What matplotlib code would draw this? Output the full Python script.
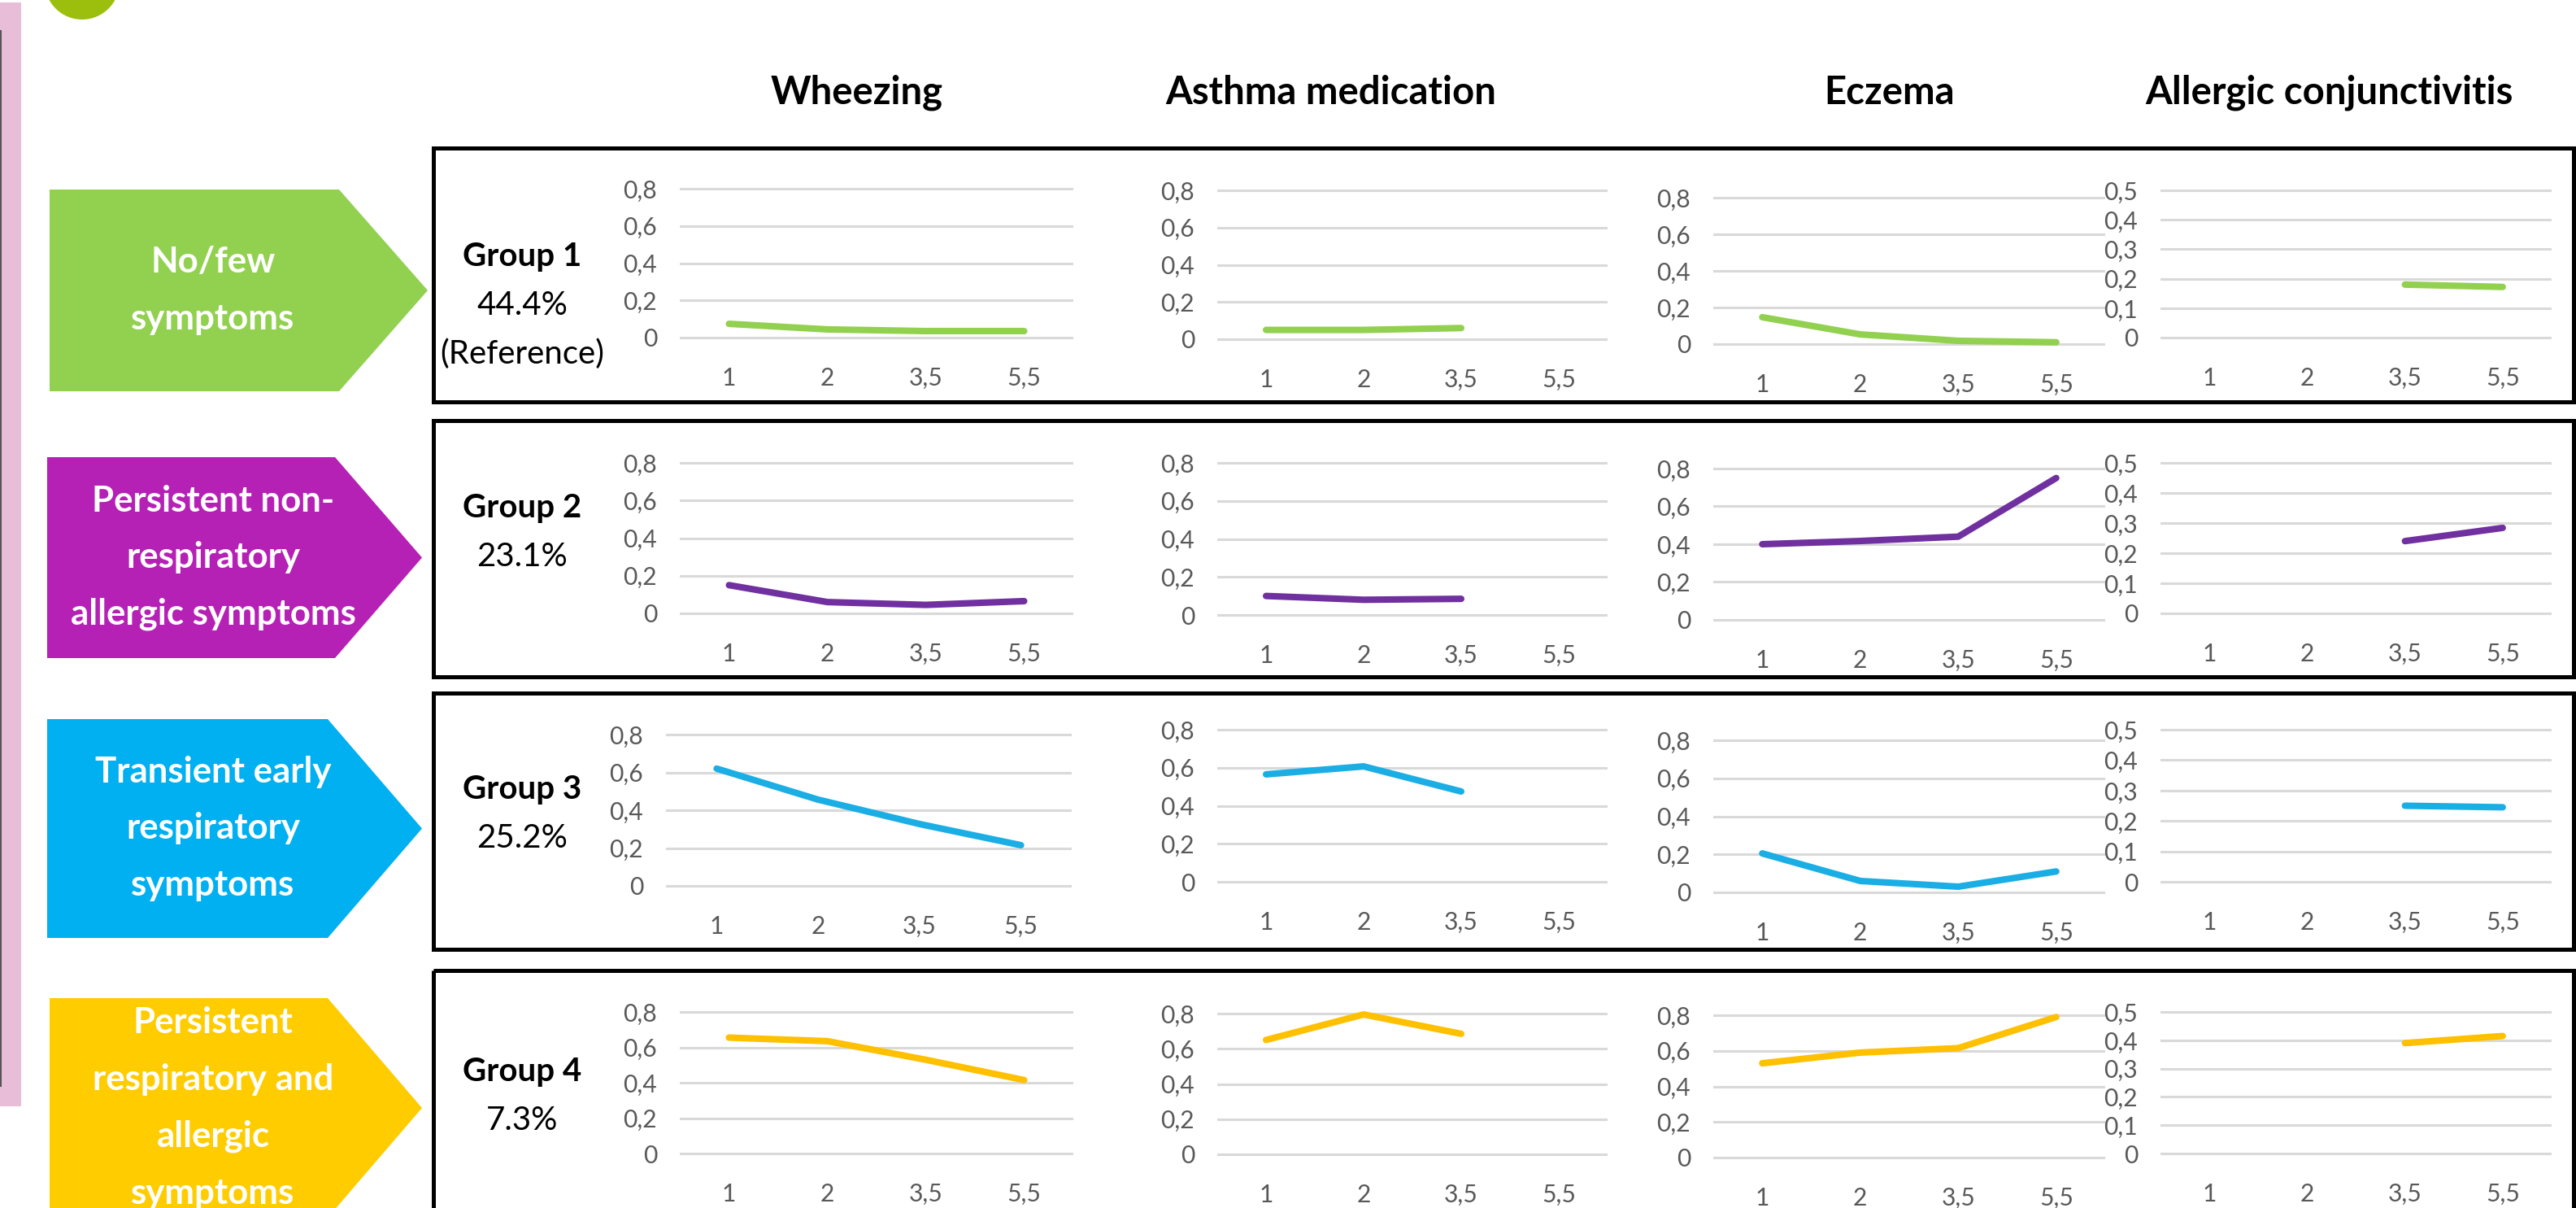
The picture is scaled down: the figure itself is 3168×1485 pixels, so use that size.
import numpy as np
import matplotlib.pyplot as plt
from matplotlib.patches import Polygon, Rectangle, Circle

plt.rcParams['font.family'] = ['Lato', 'DejaVu Sans']

W, H = 3168, 1485
nan = np.nan

# -----------------------------
# data
# -----------------------------
outcomes = ['Wheezing', 'Asthma medication', 'Eczema', 'Allergic conjunctivitis']
ages = ['1', '2', '3,5', '5,5']
group_names = ['Group 1', 'Group 2', 'Group 3', 'Group 4']
group_shares = ['44.4%', '23.1%', '25.2%', '7.3%']
group_labels = ['No/few\nsymptoms',
                'Persistent non-\nrespiratory\nallergic symptoms',
                'Transient early\nrespiratory\nsymptoms',
                'Persistent\nrespiratory and\nallergic\nsymptoms']

wheezing = [[0.074, 0.044, 0.035, 0.035],
            [0.15, 0.06, 0.045, 0.065],
            [0.62, 0.456, 0.327, 0.215],
            [0.655, 0.635, 0.53, 0.415]]
asthma_med = [[0.05, 0.05, 0.06, nan],
              [0.10, 0.08, 0.085, nan],
              [0.565, 0.607, 0.475, nan],
              [0.65, 0.795, 0.685, nan]]
eczema = [[0.147, 0.053, 0.018, 0.01],
          [0.40, 0.417, 0.44, 0.75],
          [0.205, 0.06, 0.03, 0.11],
          [0.53, 0.59, 0.615, 0.79]]
conjunctivitis = [[nan, nan, 0.18, 0.172],
                  [nan, nan, 0.24, 0.284],
                  [nan, nan, 0.25, 0.245],
                  [nan, nan, 0.39, 0.415]]
series = [wheezing, asthma_med, eczema, conjunctivitis]
y_max = [0.8, 0.8, 0.8, 0.5]
y_step = [0.2, 0.2, 0.2, 0.1]

arrow_colors = ['#92D050', '#B521B5', '#00B0F0', '#FFCC00']
line_colors = ['#92D050', '#7030A0', '#1AAEE5', '#FFC000']

# -----------------------------
# layout (pixels of the slide)
# -----------------------------
header_x = [1054, 1637, 2324, 2864]
col_x = [(836, 1320), (1497, 1977), (2107, 2589), (2657, 3138)]
row_y = [[(232, 415), (234, 417), (243, 423), (234, 415)],
         [(569, 754), (569, 756), (576, 762), (569, 754)],
         [(903, 1089), (897, 1084), (910, 1097), (897, 1084)],
         [(1244, 1418), (1246, 1419), (1248, 1423), (1244, 1418)]]
boxes = [(182, 494), (517, 832), (852, 1167), (1193, 1510)]
# left, shoulder, tip, top, bottom
arrows = [(61, 417, 526, 233, 481), (58, 412, 519, 562, 809),
          (58, 403, 519, 884, 1153), (61, 403, 519, 1227, 1497)]
name_base = [327, 636, 982, 1329]

fig = plt.figure(figsize=(W / 100, H / 100), dpi=100)
bg = fig.add_axes([0, 0, 1, 1])
bg.set_xlim(0, W)
bg.set_ylim(H, 0)
bg.axis('off')

# side decorations
bg.add_patch(Rectangle((0, 3), 26, 1357, color='#E8BDD8', lw=0))
bg.plot([1, 1], [38, 1335], color='#555555', lw=1.5)
bg.add_patch(Circle((101, -22), 46, color='#9BBF0C', lw=0))

for c, name in enumerate(outcomes):
    bg.text(header_x[c], 128, name, ha='center', va='baseline',
            fontsize=34, fontweight='bold', color='black')

for r in range(4):
    left, shoulder, tip, top, bottom = arrows[r]
    mid = (top + bottom) / 2
    bg.add_patch(Polygon([(left, top), (shoulder, top), (tip, mid),
                          (shoulder, bottom), (left, bottom)],
                         closed=True, color=arrow_colors[r], lw=0))
    bg.text(262, mid, group_labels[r], ha='center', va='center', color='white',
            fontsize=31.5, fontweight='bold', linespacing=1.9)

    btop, bbot = boxes[r]
    bg.add_patch(Rectangle((533, btop), 3165 - 533, bbot - btop, fill=False,
                           ec='black', lw=3.6))

    bg.text(642, name_base[r], group_names[r], ha='center', va='baseline',
            fontsize=29, fontweight='bold')
    bg.text(642, name_base[r] + 60, group_shares[r], ha='center', va='baseline',
            fontsize=29)
    if r == 0:
        bg.text(642, name_base[r] + 120, '(Reference)', ha='center',
                va='baseline', fontsize=29)

# -----------------------------
# the 16 small line charts
# -----------------------------
pad = 5
for r in range(4):
    for c in range(4):
        x0, x1 = col_x[c]
        if (r, c) == (2, 0):
            x0, x1 = 819, 1318
        top, zero = row_y[r][c]
        ax = fig.add_axes([x0 / W, 1 - (zero + pad) / H, (x1 - x0) / W,
                           (zero - top + 2 * pad) / H])
        per = y_max[c] / (zero - top)
        ax.set_ylim(-pad * per, y_max[c] + pad * per)
        ax.set_xlim(-0.5, 3.5)
        ax.set_facecolor('none')
        for s in ax.spines.values():
            s.set_visible(False)
        ticks = np.arange(0, y_max[c] + 1e-6, y_step[c])
        ax.set_yticks(ticks)
        ax.set_yticklabels(['0' if t == 0 else f'{t:.1f}'.replace('.', ',')
                            for t in ticks])
        ax.set_xticks(range(4))
        ax.set_xticklabels(ages)
        ax.tick_params(axis='y', length=0, pad=20, labelsize=21.6,
                       labelcolor='#595959')
        ax.tick_params(axis='x', length=0, pad=22, labelsize=21.6,
                       labelcolor='#595959')
        ax.yaxis.grid(True, color='#D9D9D9', lw=2.2)
        ax.set_axisbelow(True)
        vals = np.array(series[c][r], dtype=float)
        ax.plot(range(4), vals, color=line_colors[r], lw=5.8,
                solid_capstyle='round', solid_joinstyle='round', clip_on=False)

fig.savefig('out.png', dpi=100)
